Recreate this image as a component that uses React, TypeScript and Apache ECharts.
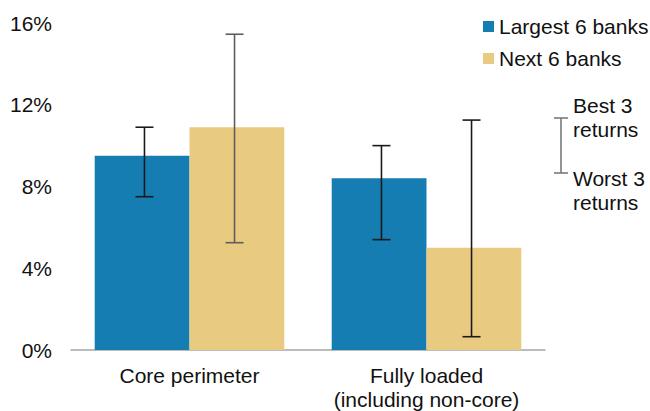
import React, { useEffect, useRef } from "react";
import * as echarts from "echarts";

const categories = ["Core perimeter", "Fully loaded\n(including non-core)"];
const seriesNames = ["Largest 6 banks", "Next 6 banks"];
const largestValues = [9.5, 8.4];
const nextValues = [10.9, 5.0];
const largestLow = [7.5, 5.4];
const largestHigh = [10.9, 10.0];
const nextLow = [5.25, 0.65];
const nextHigh = [15.45, 11.25];
const yTicks = [0, 4, 8, 12, 16];

const BLUE = "#157db1";
const GOLD = "#e8cb80";
const FONT = "'Liberation Sans', Arial, sans-serif";
const FS = 21;

function errorSeries(name: string, lows: number[], highs: number[], side: number, colors: string[]) {
  return {
    type: "custom",
    name: name + " range",
    z: 10,
    silent: true,
    encode: { x: 0, y: [1, 2] },
    data: lows.map((lo, i) => [i, lo, highs[i]]),
    renderItem: (params: any, api: any) => {
      const idx = api.value(0);
      const lowPt = api.coord([idx, api.value(1)]);
      const highPt = api.coord([idx, api.value(2)]);
      const catW = api.size([1, 0])[0];
      const x = lowPt[0] + side * catW * 0.19;
      const half = 9;
      const style = { stroke: colors[params.dataIndex], lineWidth: 1.6 };
      return {
        type: "group",
        children: [
          { type: "line", shape: { x1: x, y1: highPt[1], x2: x, y2: lowPt[1] }, style },
          { type: "line", shape: { x1: x - half, y1: highPt[1], x2: x + half, y2: highPt[1] }, style },
          { type: "line", shape: { x1: x - half, y1: lowPt[1], x2: x + half, y2: lowPt[1] }, style },
        ],
      };
    },
  };
}

export default function App() {
  const ref = useRef<HTMLDivElement>(null);
  useEffect(() => {
    if (!ref.current) return;
    const chart = echarts.init(ref.current, undefined, { renderer: "svg" });
    chart.setOption({
      animation: false,
      textStyle: { fontFamily: FONT },
      grid: { left: 71, right: 105, top: 23, bottom: 58 },
      legend: {
        orient: "vertical",
        left: 478,
        top: 11,
        itemWidth: 11,
        itemHeight: 11,
        itemGap: 11,
        icon: "rect",
        data: seriesNames,
        textStyle: { fontSize: FS, color: "#111", fontFamily: FONT, lineHeight: 21 },
      },
      xAxis: {
        type: "category",
        data: categories,
        axisTick: { show: false },
        axisLine: { lineStyle: { color: "#a6a6a6", width: 1.5 } },
        axisLabel: {
          interval: 0,
          hideOverlap: false,
          fontSize: FS,
          color: "#111",
          lineHeight: 24,
          margin: 13,
          fontFamily: FONT,
        },
      },
      yAxis: {
        type: "value",
        min: yTicks[0],
        max: yTicks[yTicks.length - 1],
        interval: 4,
        splitLine: { show: false },
        axisLine: { show: false },
        axisTick: { show: false },
        axisLabel: { fontSize: FS, color: "#111", margin: 19, formatter: "{value}%", fontFamily: FONT },
      },
      series: [
        {
          type: "bar",
          name: seriesNames[0],
          data: largestValues,
          barGap: "0%",
          barCategoryGap: "20%",
          itemStyle: { color: BLUE },
        },
        {
          type: "bar",
          name: seriesNames[1],
          data: nextValues,
          barGap: "0%",
          barCategoryGap: "20%",
          itemStyle: { color: GOLD },
        },
        errorSeries(seriesNames[0], largestLow, largestHigh, -1, ["#1a1a1a", "#1a1a1a"]),
        errorSeries(seriesNames[1], nextLow, nextHigh, 1, ["#5e5e5e", "#1a1a1a"]),
      ],
      graphic: [
        { type: "line", shape: { x1: 561, y1: 118, x2: 561, y2: 173 }, style: { stroke: "#7a7a7a", lineWidth: 1.6 } },
        { type: "line", shape: { x1: 554, y1: 118, x2: 568, y2: 118 }, style: { stroke: "#7a7a7a", lineWidth: 1.6 } },
        { type: "line", shape: { x1: 554, y1: 173, x2: 568, y2: 173 }, style: { stroke: "#7a7a7a", lineWidth: 1.6 } },
        {
          type: "text",
          x: 573,
          y: 93,
          style: { text: "Best 3\nreturns", fontSize: FS, lineHeight: 24, fill: "#111", fontFamily: FONT },
        },
        {
          type: "text",
          x: 573,
          y: 166,
          style: { text: "Worst 3\nreturns", fontSize: FS, lineHeight: 24, fill: "#111", fontFamily: FONT },
        },
      ],
    });
    return () => chart.dispose();
  }, []);
  return <div ref={ref} style={{ width: 650, height: 411, position: "absolute", left: 0, top: 0 }} />;
}
